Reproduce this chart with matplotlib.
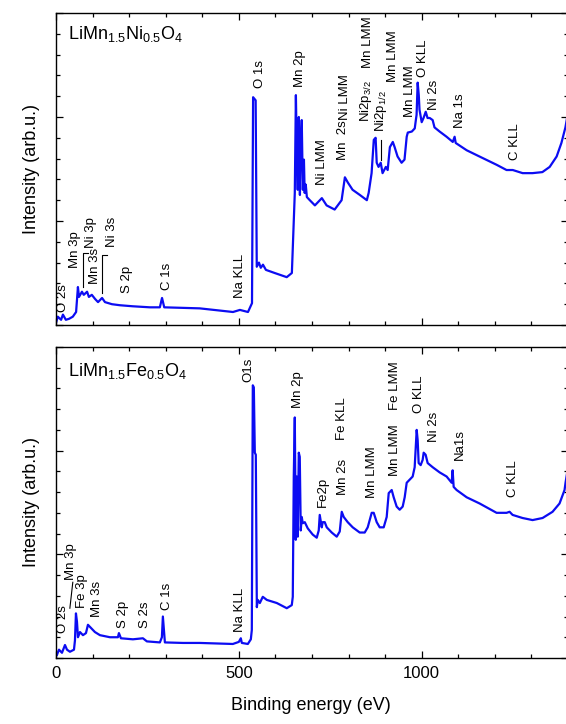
import matplotlib.pyplot as plt
from matplotlib.ticker import MultipleLocator

plt.rcParams['font.family'] = ['Liberation Sans', 'DejaVu Sans']
plt.rcParams['mathtext.fontset'] = 'custom'
plt.rcParams['mathtext.rm'] = 'Liberation Sans'
plt.rcParams['mathtext.it'] = 'Liberation Sans:italic'
plt.rcParams['mathtext.bf'] = 'Liberation Sans:bold'

# XPS survey, LiMn1.5Ni0.5O4 (binding energy in eV, intensity in arb. units)
ni_energy = [0, 5, 14, 19, 27, 36, 46, 55, 60, 63, 71, 76, 85, 90, 98, 107, 115, 126, 134,
             153, 175, 210, 257, 284, 290, 296, 393, 484, 503, 525, 536, 539, 546, 549,
             555, 560, 566, 574, 598, 631, 645, 647, 653, 656, 658, 661, 664, 667, 669,
             672, 675, 678, 680, 683, 686, 694, 708, 727, 740, 762, 781, 790, 798, 811,
             831, 850, 855, 863, 869, 874, 877, 882, 888, 893, 902, 907, 913, 921, 926,
             934, 945, 953, 959, 962, 973, 981, 984, 986, 989, 992, 994, 1000, 1005,
             1011, 1016, 1022, 1030, 1035, 1049, 1068, 1085, 1090, 1093, 1123, 1158,
             1205, 1232, 1249, 1276, 1303, 1330, 1350, 1369, 1382, 1393, 1399]
ni_counts = [0.2, 0.8, 0.5, 1.0, 0.5, 0.6, 0.8, 1.25, 3.65, 2.7, 3.2, 2.9, 3.2, 2.7, 2.9,
             2.5, 2.2, 2.6, 2.2, 2.0, 1.9, 1.8, 1.7, 1.7, 2.6, 1.7, 1.6, 1.25, 1.45, 1.25,
             2.1, 21.9, 21.6, 5.6, 6.0, 5.5, 5.8, 5.3, 5.0, 4.6, 5.0, 6.9, 12.7, 22.1,
             17.8, 13.0, 20.0, 12.5, 16.8, 19.7, 13.0, 15.9, 12.7, 13.5, 12.3, 12.0, 11.5,
             12.2, 11.5, 11.1, 12.0, 14.2, 13.7, 13.0, 12.5, 12.0, 12.7, 14.6, 17.8, 18.0,
             15.6, 15.2, 15.6, 14.6, 15.2, 14.9, 17.1, 17.6, 17.1, 16.2, 15.6, 15.9, 18.1,
             18.5, 18.6, 18.9, 19.7, 20.2, 23.3, 22.1, 20.7, 19.5, 19.9, 20.5, 19.9, 19.9,
             19.7, 19.0, 18.6, 18.1, 17.6, 18.1, 17.5, 16.8, 16.2, 15.4, 14.9, 14.9, 14.6,
             14.6, 14.7, 15.2, 16.2, 17.5, 19.0, 20.2]

# XPS survey, LiMn1.5Fe0.5O4
fe_energy = [2.7, 8.2, 16.4, 24.6, 30.1, 38.2, 49.2, 51.9, 54.6, 57.4, 60.1, 65.6, 73.8, 82,
             87.4, 95.6, 106.5, 120.2, 147.5, 169.4, 172.1, 177.6, 210.4, 237.7, 248.6,
             284.1, 289.6, 292.3, 295.1, 297.8, 347, 393.4, 483.6, 500, 505.4, 508.2,
             524.6, 532.8, 535.5, 538.2, 541, 543.7, 546.4, 549.2, 551.9, 557.4, 565.5,
             576.5, 603.8, 631.1, 644.8, 647.5, 649, 650.2, 653, 655.7, 658.4, 661.1,
             663.9, 666.6, 669.3, 672, 674.8, 680.3, 688.5, 702.1, 713, 718.5, 721.2,
             726.7, 729.4, 734.9, 740.4, 754, 767.7, 775.9, 781.4, 786.8, 797.7, 811.4,
             830.5, 844.2, 852.4, 863.3, 868.8, 877, 885.2, 896.1, 904.3, 909.8, 918,
             923.4, 931.6, 939.8, 948, 953.5, 959, 967.1, 975.3, 980.8, 983.5, 986.3, 989,
             991.7, 997.2, 1002.6, 1005.4, 1010.8, 1016.3, 1030, 1049.1, 1068.2, 1081.9,
             1084.6, 1087.4, 1095.5, 1122.9, 1158.4, 1204.8, 1232.1, 1240.3, 1248.5,
             1275.8, 1303.2, 1330.5, 1357.8, 1376.9, 1390.6, 1393.3, 1398.8]
fe_counts = [0.3, 0.8, 0.5, 1.25, 0.8, 0.6, 0.8, 1.7, 4.3, 3.5, 2.0, 2.5, 2.2, 2.4, 3.2,
             2.9, 2.5, 2.2, 2.0, 2.0, 2.4, 1.9, 1.8, 1.9, 1.6, 1.5, 2.0, 4.0, 2.7, 1.5,
             1.45, 1.45, 1.35, 1.55, 1.9, 1.45, 1.35, 1.8, 2.7, 26.3, 26.1, 19.8, 19.6,
             4.9, 5.6, 5.3, 5.9, 5.6, 5.3, 4.8, 5.1, 5.9, 12.3, 17.5, 23.2, 11.4, 17.5,
             11.7, 19.8, 19.4, 12.3, 13.6, 13.0, 13.1, 12.5, 11.9, 11.6, 12.3, 13.8, 12.6,
             13.1, 13.1, 12.6, 12.1, 11.7, 12.2, 14.1, 13.6, 13.1, 12.6, 12.1, 12.1, 12.6,
             14.0, 14.0, 13.1, 12.6, 12.6, 13.6, 15.9, 16.2, 15.5, 14.6, 14.3, 14.6, 15.5,
             16.9, 17.2, 17.5, 18.4, 20.1, 22.0, 21.0, 18.8, 18.6, 19.1, 19.8, 19.6, 18.8,
             18.4, 17.9, 17.5, 16.9, 18.1, 16.5, 16.2, 15.5, 14.9, 14.0, 14.0, 14.1, 13.8,
             13.5, 13.3, 13.5, 14.1, 14.9, 16.2, 16.9, 18.1]

# peak assignments: name, label x (eV), label foot (intensity)
ni_peaks = [('O 2s', 19, 1.25), ('Mn 3p', 52, 5.5), ('Ni 3p', 96, 7.4), ('Mn 3s', 107, 3.9),
            ('Ni 3s', 153, 7.5), ('S 2p', 194, 3.1), ('C 1s', 303, 3.4),
            ('Na KLL', 503, 2.6), ('O 1s', 557, 22.8), ('Mn 2p', 667, 22.9),
            ('Ni LMM', 727, 13.5), ('Mn  2s', 784, 15.9), ('Ni LMM', 790, 19.7),
            ('Mn LMM', 852, 24.7), (r'Ni2p$_{3/2}$', 848, 19.5), (r'Ni2p$_{1/2}$', 889, 18.6),
            ('Mn LMM', 921, 23.4), ('Mn LMM', 967, 20.0), ('O KLL', 1003, 23.8),
            ('Ni 2s', 1035, 20.7), ('Na 1s', 1104, 18.9), ('C KLL', 1254, 15.9)]
fe_peaks = [('O 2s', 19, 2.4), ('Mn 3p', 41, 7.5), ('Fe 3p', 71, 4.8), ('Mn 3s', 112, 4.0),
            ('S 2p', 183, 2.9), ('S 2s', 243, 2.9), ('C 1s', 303, 4.6),
            ('Na KLL', 503, 2.5), ('O1s', 525, 26.6), ('Mn 2p', 661, 24.1),
            ('Fe2p', 729, 14.6), ('Mn 2s', 784, 15.7), ('Fe KLL', 781, 21.0),
            ('Mn LMM', 863, 15.4), ('Mn LMM', 926, 17.6), ('Fe LMM', 926, 23.9),
            ('O KLL', 994, 23.6), ('Ni 2s', 1035, 20.8), ('Na1s', 1104, 19.1),
            ('C KLL', 1249, 15.5)]

fig = plt.figure(figsize=(5.66, 7.24), dpi=100)
ax1 = fig.add_axes([0.0989, 0.5511, 0.9046, 0.431])
ax2 = fig.add_axes([0.0989, 0.0912, 0.9046, 0.4296])

panels = [
    (ax1, ni_energy, ni_counts, r'LiMn$_{1.5}$Ni$_{0.5}$O$_4$', ni_peaks, 0.965),
    (ax2, fe_energy, fe_counts, r'LiMn$_{1.5}$Fe$_{0.5}$O$_4$', fe_peaks, 0.955),
]

for ax, e, c, title, peaks, ty in panels:
    ax.plot(e, c, color='#0c0cf2', lw=1.6)
    ax.set_xlim(0, 1400)
    ax.set_ylim(0, 30)
    ax.xaxis.set_major_locator(MultipleLocator(500))
    ax.xaxis.set_minor_locator(MultipleLocator(100))
    ax.yaxis.set_major_locator(MultipleLocator(10))
    ax.yaxis.set_minor_locator(MultipleLocator(2))
    ax.tick_params(which='both', direction='in', top=True, right=True,
                   labelleft=False, width=0.9, labelsize=12, pad=6)
    ax.tick_params(which='major', length=5)
    ax.tick_params(which='minor', length=3)
    for s in ax.spines.values():
        s.set_linewidth(1.0)
    ax.text(0.023, ty, title, transform=ax.transAxes, fontsize=13, va='top')
    for name, x, y in peaks:
        ax.text(x, y, name, rotation=90, ha='center', va='bottom', fontsize=9.5)

ax1.tick_params(labelbottom=False)

# leader lines for crowded labels
ax1.plot([74, 74, 87], [3.65, 6.9, 6.9], color='k', lw=0.8)
ax1.plot([126, 126, 139], [3.1, 6.7, 6.7], color='k', lw=0.8)
ax1.plot([889, 889], [15.9, 17.8], color='k', lw=0.8)
ax2.plot([46, 38], [7.3, 4.8], color='k', lw=0.8)

fig.text(31 / 566, 1 - 169 / 724, 'Intensity (arb.u.)', rotation=90,
         ha='center', va='center', fontsize=13)
fig.text(31 / 566, 1 - 502 / 724, 'Intensity (arb.u.)', rotation=90,
         ha='center', va='center', fontsize=13)
fig.text(311 / 566, 1 - 706 / 724, 'Binding energy (eV)', ha='center',
         va='center', fontsize=13)

fig.savefig('out.png', dpi=100)
